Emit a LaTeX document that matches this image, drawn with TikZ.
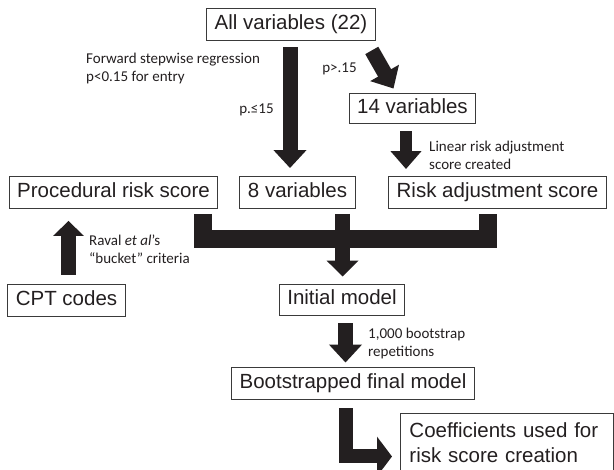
\documentclass[tikz,border=0pt]{standalone}
\usepackage{fontspec}
\setmainfont{Liberation Sans}
\newfontfamily\notefont{Carlito}
\usetikzlibrary{arrows.meta,positioning,calc}
\definecolor{ink}{HTML}{231F20}
\definecolor{frame}{HTML}{3A3A3A}
\newcommand{\boxtext}{\fontsize{20.5}{25}\selectfont}
\newcommand{\note}{\notefont\fontsize{15}{18}\selectfont}

\begin{document}
\begin{tikzpicture}[x=1pt,y=1pt,
  s/.style={draw=frame,line width=0.9pt,font=\boxtext,text=ink,minimum height=32pt,
            inner xsep=8pt,text height=15pt,text depth=4pt},
  lb/.style={font=\note,text=ink,align=left,anchor=west,inner sep=0pt},
  ar/.style={draw=ink,line width=15pt,-{Triangle[length=18pt,width=32pt]}},
  bar/.style={draw=ink,line width=18pt,line join=miter}]
\useasboundingbox (0,0) rectangle (614,470);
\node[s] (all) at (291,446) {All variables (22)};
\node[s,minimum height=30pt] (v14) at (412.5,362) {14 variables};
\node[s] (proc) at (113.5,277.5) {Procedural risk score};
\node[s] (v8) at (297.5,277.5) {8 variables};
\node[s] (risk) at (497.5,277.5) {Risk adjustment score};
\node[s] (cpt) at (66.5,170) {CPT codes};
\node[s,minimum height=31pt] (init) at (342,170.5) {Initial model};
\node[s] (boot) at (353,87) {Bootstrapped final model};
\node[s,anchor=north west,align=left,text width=195pt,inner xsep=9pt,inner ysep=3pt,
      text height=21pt,text depth=45pt] (coef) at (400,57) {Coefficients used for\\risk score creation};
% side notes
\node[lb] (fwd) at (86,401) {Forward stepwise regression\\p<0.15 for entry};
\node[lb,anchor=center] (pgt) at (339.5,401) {p>.15};
\node[lb,anchor=center] (ple) at (256.5,360) {p.≤15};
\node[lb] (lin) at (429,315) {Linear risk adjustment\\score created};
\node[lb] (rav) at (89,221) {Raval \textit{et al}’s\\“bucket” criteria};
\node[lb] (bst) at (368,126) {1,000 bootstrap\\repetitions};
% block arrows
\draw[ar,shorten <=7pt,shorten >=8pt] ([xshift=-1pt]all.south) -- ([xshift=-1pt]all.south |- v8.north);
\draw[ar] ([shift={(-4pt,-10pt)}]all.south east) -- ([shift={(-19pt,4pt)}]v14.north);
\draw[ar,line width=12pt,-{Triangle[length=18pt,width=30pt]},shorten <=8pt,shorten >=7pt]
  ([xshift=-6.5pt]v14.south) -- ([xshift=-6.5pt]v14.south |- risk.north);
\draw[ar,-{Triangle[length=15pt,width=30pt]},shorten <=9pt,shorten >=12pt]
  ([xshift=2pt]cpt.north) -- ([xshift=2pt]cpt.north |- proc.south);
% bracket joining the three scores
\coordinate (jl) at ([xshift=-15.5pt,yshift=-5pt]proc.south east);
\coordinate (jc) at ([xshift=-13pt,yshift=-5pt]v8.south east);
\coordinate (jr) at ([xshift=-9.5pt,yshift=-5pt]risk.south);
\draw[bar] (jl) -- ++(0,-25.5) -| (jr);
\draw[bar,line width=15pt] (jc) -- ++(0,-25.5);
\draw[ar,-{Triangle[length=16pt,width=31pt]},shorten >=7pt] ([yshift=-25.5pt]jc) -- (jc |- init.north);
\draw[ar,shorten <=8pt,shorten >=4pt] ([xshift=3.5pt]init.south) -- ([xshift=3.5pt]init.south |- boot.north);
\draw[ar,line width=14pt,line join=miter,-{Triangle[length=15pt,width=39pt]},shorten <=9pt,shorten >=8pt]
  ([xshift=-7pt]boot.south) |- ([yshift=-43.5pt]coef.north west);
\end{tikzpicture}
\end{document}
